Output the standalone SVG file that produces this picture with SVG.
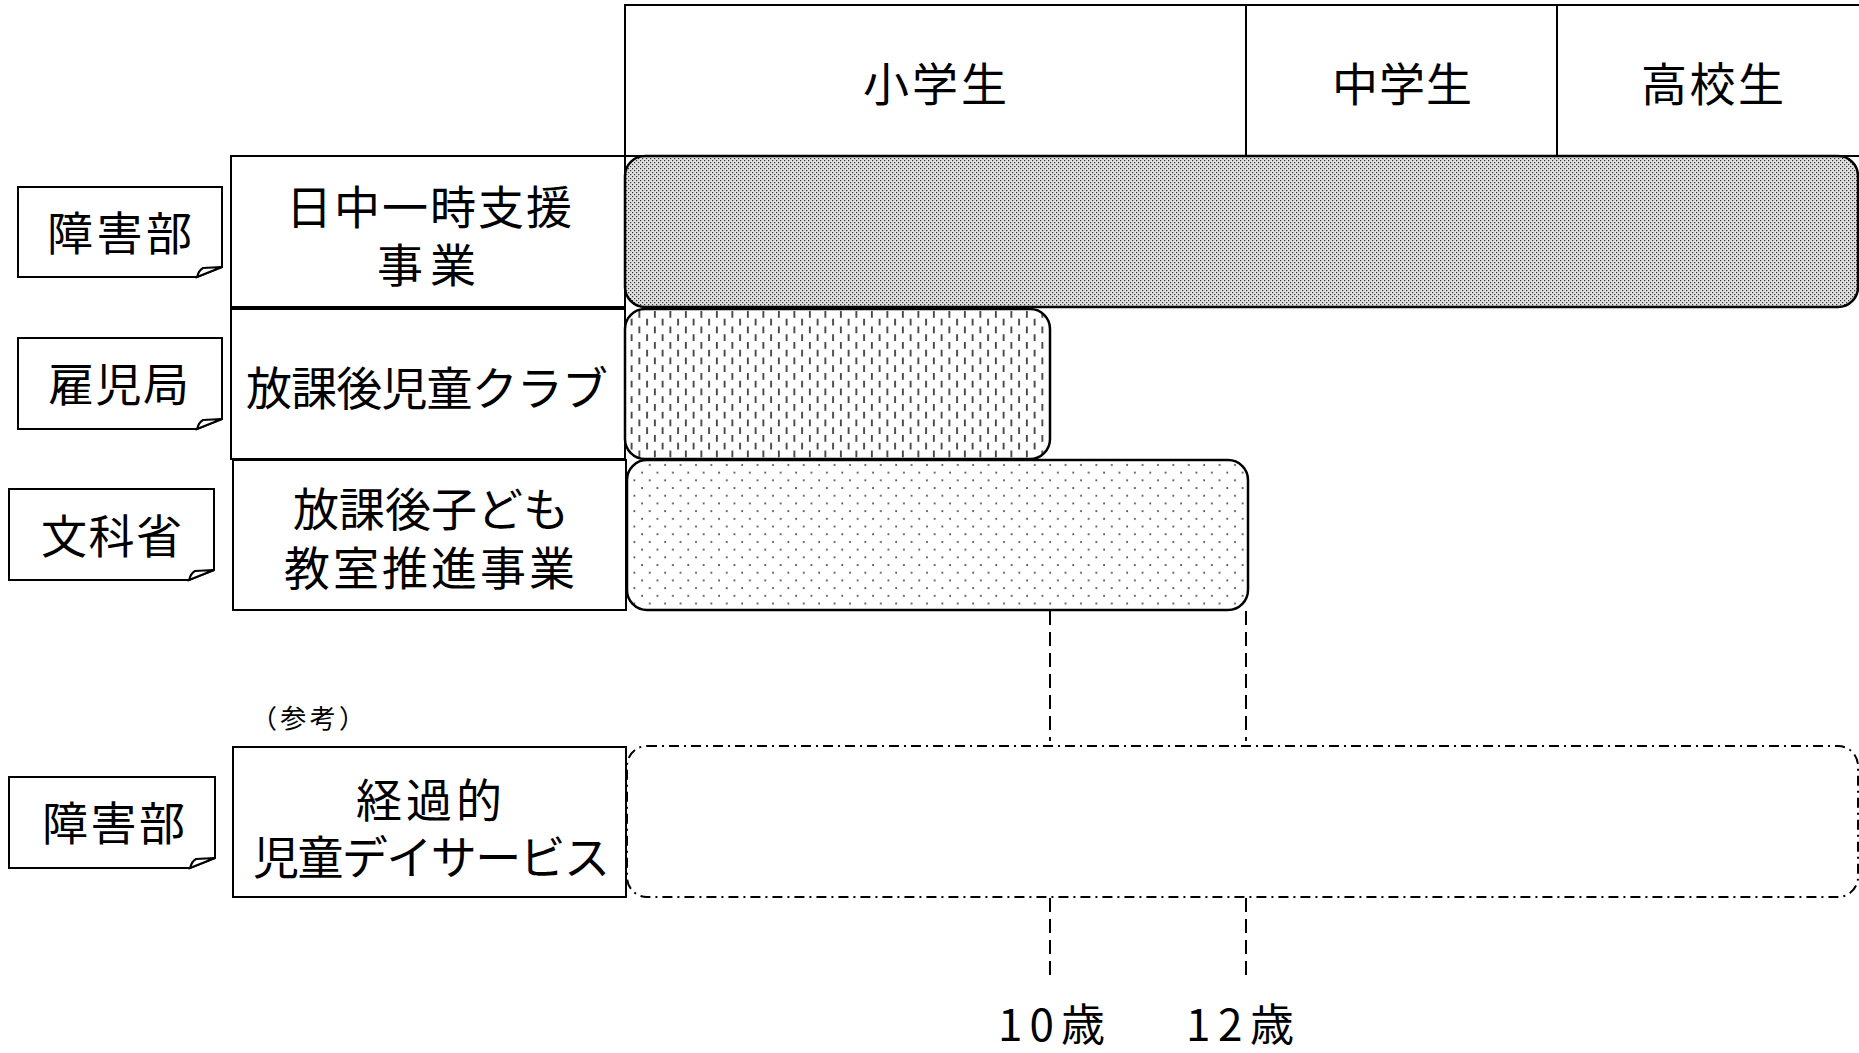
<svg xmlns="http://www.w3.org/2000/svg" width="1859" height="1053" viewBox="0 0 1859 1053">
<style>
.t{font-family:"Noto Sans CJK JP","Noto Sans",sans-serif;font-size:46px;fill:#000}
.s{font-size:26px}
.box{fill:#fff;stroke:#000;stroke-width:2}
.note{fill:#fff;stroke:#000;stroke-width:2;stroke-linejoin:miter}
.bar{stroke:#000;stroke-width:2.5}
.dash{stroke:#000;stroke-width:2;stroke-dasharray:14 7;fill:none}
</style>
<defs>
<pattern id="pDense" width="4" height="4" patternUnits="userSpaceOnUse">
<rect width="4" height="4" fill="#e0e0e0"/>
<rect x="0" y="0" width="1.2" height="1.2" fill="#333"/>
<rect x="2" y="2" width="1.2" height="1.2" fill="#333"/>
</pattern>
<pattern id="pVert" width="15.5" height="15.5" patternUnits="userSpaceOnUse">
<rect width="15.5" height="15.5" fill="#fff"/>
<rect x="3" y="1" width="1.7" height="6.8" fill="#333"/>
<rect x="10.75" y="8.75" width="1.7" height="6.8" fill="#333"/>
</pattern>
<pattern id="pDots" width="15.4" height="15.4" patternUnits="userSpaceOnUse">
<rect width="15.4" height="15.4" fill="#fff"/>
<circle cx="3" cy="3" r="1" fill="#444"/>
<circle cx="10.7" cy="10.7" r="1" fill="#444"/>
</pattern>
</defs>
<rect width="1859" height="1053" fill="#fff"/>

<g id="header">
<rect class="box" x="625" y="5" width="1240" height="151"/>
<line x1="1246" y1="5" x2="1246" y2="156" stroke="#000" stroke-width="2"/>
<line x1="1557" y1="5" x2="1557" y2="156" stroke="#000" stroke-width="2"/>
<text class="t" x="863" y="101" textLength="144" lengthAdjust="spacing">小学生</text>
<text class="t" x="1332" y="101" textLength="140" lengthAdjust="spacing">中学生</text>
<text class="t" x="1641" y="101" textLength="143" lengthAdjust="spacing">高校生</text>
</g>

<g id="row1">
<rect class="box" x="231" y="156" width="394" height="151"/>
<text class="t"><tspan x="286" y="224" textLength="286" lengthAdjust="spacing">日中一時支援</tspan><tspan x="377" y="282" textLength="99" lengthAdjust="spacing">事業</tspan></text>
<rect class="bar" x="625" y="156" width="1233" height="151" rx="20" ry="20" fill="url(#pDense)"/>
</g>

<g id="row2">
<rect class="box" x="231" y="309" width="394" height="150"/>
<text class="t" x="246" y="405" textLength="362" lengthAdjust="spacing">放課後児童クラブ</text>
<rect class="bar" x="625" y="309" width="425" height="150" rx="20" ry="20" fill="url(#pVert)"/>
</g>

<g id="row3">
<rect class="box" x="233" y="460" width="393" height="150"/>
<text class="t"><tspan x="293" y="526" textLength="276" lengthAdjust="spacing">放課後子ども</tspan><tspan x="284" y="585" textLength="291" lengthAdjust="spacing">教室推進事業</tspan></text>
<rect class="bar" x="627" y="460" width="621" height="150" rx="20" ry="20" fill="url(#pDots)"/>
</g>

<g id="note-ref">
<text class="t s" x="251" y="728" textLength="114" lengthAdjust="spacing">（参考）</text>
</g>

<g id="row4">
<rect class="box" x="233" y="747" width="393" height="150"/>
<text class="t"><tspan x="356" y="817" textLength="146" lengthAdjust="spacing">経過的</tspan><tspan x="253" y="874" textLength="357" lengthAdjust="spacing">児童デイサービス</tspan></text>
<rect x="627" y="746" width="1231" height="151" rx="20" ry="20" fill="none" stroke="#000" stroke-width="2" stroke-dasharray="10 5 2 5"/>
</g>

<g id="label-shogai1">
<path class="note" d="M18,187 H222 V267 L197,277 H18 Z"/>
<path class="note" d="M197,277 Q199,270 203,268 L222,267 Z"/>
<text class="t" x="47" y="250" textLength="145" lengthAdjust="spacing">障害部</text>
</g>

<g id="label-koji">
<path class="note" d="M18,338 H222 V419 L197,429 H18 Z"/>
<path class="note" d="M197,429 Q199,422 203,420 L222,419 Z"/>
<text class="t" x="48" y="401" textLength="141" lengthAdjust="spacing">雇児局</text>
</g>

<g id="label-monka">
<path class="note" d="M9,489 H214 V570 L189,580 H9 Z"/>
<path class="note" d="M189,580 Q191,573 195,571 L214,570 Z"/>
<text class="t" x="41" y="553" textLength="141" lengthAdjust="spacing">文科省</text>
</g>

<g id="label-shogai2">
<path class="note" d="M9,777 H215 V858 L190,868 H9 Z"/>
<path class="note" d="M190,868 Q192,861 196,859 L215,858 Z"/>
<text class="t" x="42" y="840" textLength="143" lengthAdjust="spacing">障害部</text>
</g>

<g id="connectors">
<line class="dash" x1="1050" y1="611" x2="1050" y2="741"/>
<line class="dash" x1="1246" y1="611" x2="1246" y2="741"/>
<line class="dash" x1="1050" y1="898" x2="1050" y2="982"/>
<line class="dash" x1="1246" y1="898" x2="1246" y2="982"/>
</g>

<g id="age-labels">
<text class="t" x="998" y="1041" textLength="107" lengthAdjust="spacing" style="font-size:44px">10歳</text>
<text class="t" x="1186" y="1041" textLength="108" lengthAdjust="spacing" style="font-size:44px">12歳</text>
</g>
</svg>
